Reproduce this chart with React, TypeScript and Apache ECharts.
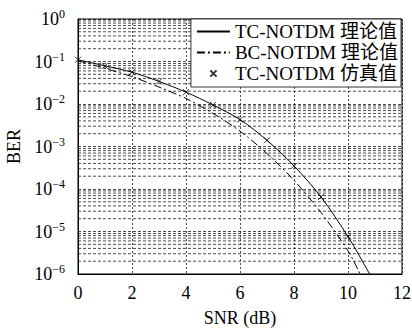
import React, { useEffect, useRef } from "react";
import * as echarts from "echarts";

const snr = [0, 1, 2, 3, 4, 5, 6, 7, 8, 9, 10];
const tcTheoryX = [0, 1, 2, 3, 4, 5, 6, 7, 8, 9, 10, 10.8, 11];
const tcTheoryBer = [0.11, 0.079, 0.056, 0.034, 0.019, 0.0095, 0.0043, 0.0014, 3.5e-4, 6.5e-5, 7.6e-6, 1.0e-6, 5.6e-7];
const bcTheoryX = [0, 1, 2, 3, 4, 5, 6, 7, 8, 9, 10, 10.45, 10.7];
const bcTheoryBer = [0.105, 0.069, 0.044, 0.025, 0.0135, 0.006, 0.0023, 6.8e-4, 1.6e-4, 2.8e-5, 3.5e-6, 1.0e-6, 4.5e-7];
const tcSimBer = [0.11, 0.079, 0.056, 0.034, 0.019, 0.0095, 0.0043, 0.0014, 3.5e-4, 6.5e-5, 7.6e-6];
const decades = [1e-6, 1e-5, 1e-4, 1e-3, 1e-2, 1e-1];
const minorMultipliers = [2, 3, 4, 5, 6, 7, 8, 9];
const seriesNames = ["TC-NOTDM 理论值", "BC-NOTDM 理论值", "TC-NOTDM 仿真值"];

const FONT = "Liberation Serif, Noto Sans CJK SC, serif";

export default function App() {
  const ref = useRef<HTMLDivElement>(null);
  useEffect(() => {
    if (!ref.current) return;
    const chart = echarts.init(ref.current, undefined, { renderer: "svg" });
    const gridStyle = { color: "#000", width: 0.7, type: [3, 2] as number[] };
    const minorSeries: any[] = [];
    decades.forEach((d) =>
      minorMultipliers.forEach((m) =>
        minorSeries.push({
          type: "line",
          silent: true,
          symbol: "none",
          data: [
            [0, d * m],
            [12, d * m],
          ],
          lineStyle: gridStyle,
          z: 1,
        })
      )
    );
    chart.setOption({
      animation: false,
      textStyle: { fontFamily: FONT },
      grid: {
        left: 78,
        right: 10,
        top: 19,
        bottom: 57,
        outerBoundsMode: "none",
        containLabel: false,
        show: true,
        borderColor: "#000",
        borderWidth: 1,
        backgroundColor: "transparent",
      },
      legend: {
        orient: "vertical",
        right: 11,
        top: 19,
        backgroundColor: "#fff",
        borderColor: "#000",
        borderWidth: 0.8,
        padding: [3, 3, 4, 5],
        itemWidth: 33,
        itemHeight: 10,
        itemGap: 2,
        textStyle: { fontFamily: FONT, fontSize: 19, color: "#000" },
        data: [
          { name: seriesNames[0], itemStyle: { opacity: 0 } },
          { name: seriesNames[1], itemStyle: { opacity: 0 } },
          { name: seriesNames[2], icon: "path://M-16,-3L-16,-3M0,0L10,10M10,0L0,10M26,13L26,13" },
        ],
      },
      xAxis: {
        type: "value",
        min: 0,
        max: 12,
        interval: 2,
        name: "SNR (dB)",
        nameLocation: "middle",
        nameGap: 35,
        nameTextStyle: { fontFamily: FONT, fontSize: 18, color: "#000" },
        axisLine: { show: true, lineStyle: { color: "#000", width: 1 } },
        axisTick: { show: false },
        axisLabel: { fontFamily: FONT, fontSize: 18, color: "#000", margin: 10 },
        splitLine: { show: true, lineStyle: { color: "#000", width: 0.7, type: [2, 2] } },
      },
      yAxis: {
        type: "log",
        logBase: 10,
        min: 1e-6,
        max: 1,
        name: "BER",
        nameLocation: "middle",
        nameGap: 55,
        nameRotate: 90,
        nameTextStyle: { fontFamily: FONT, fontSize: 18, color: "#000" },
        axisLine: { show: true, lineStyle: { color: "#000", width: 1 } },
        axisTick: { show: false },
        axisLabel: {
          margin: 13,
          formatter: (v: number) => {
            const e = Math.round(Math.log10(v));
            return `{b|10}{s|${e < 0 ? "−" + -e : e}}`;
          },
          rich: {
            b: { fontFamily: FONT, fontSize: 18, color: "#000" },
            s: { fontFamily: FONT, fontSize: 12, color: "#000", padding: [0, 0, 10, 0] },
          },
        },
        splitLine: { show: true, lineStyle: gridStyle },
      },
      series: [
        ...minorSeries,
        {
          name: seriesNames[0],
          type: "line",
          smooth: 0.3,
          symbol: "none",
          data: tcTheoryX.map((x, i) => [x, tcTheoryBer[i]]),
          lineStyle: { color: "#000", width: 1 },
          itemStyle: { color: "#000" },
          z: 5,
        },
        {
          name: seriesNames[1],
          type: "line",
          smooth: 0.3,
          symbol: "none",
          data: bcTheoryX.map((x, i) => [x, bcTheoryBer[i]]),
          lineStyle: { color: "#000", width: 1, type: [8, 3, 2, 3] },
          itemStyle: { color: "#000" },
          z: 5,
        },
        {
          name: seriesNames[2],
          type: "scatter",
          symbol: "path://M0,0L10,10M10,0L0,10",
          symbolSize: 6,
          data: snr.map((x, i) => [x, tcSimBer[i]]),
          itemStyle: { color: "transparent", borderColor: "#000", borderWidth: 1 },
          z: 6,
        },
      ],
    });
    return () => chart.dispose();
  }, []);
  return <div ref={ref} style={{ position: "absolute", left: 0, top: 0, width: 412, height: 331 }} />;
}
